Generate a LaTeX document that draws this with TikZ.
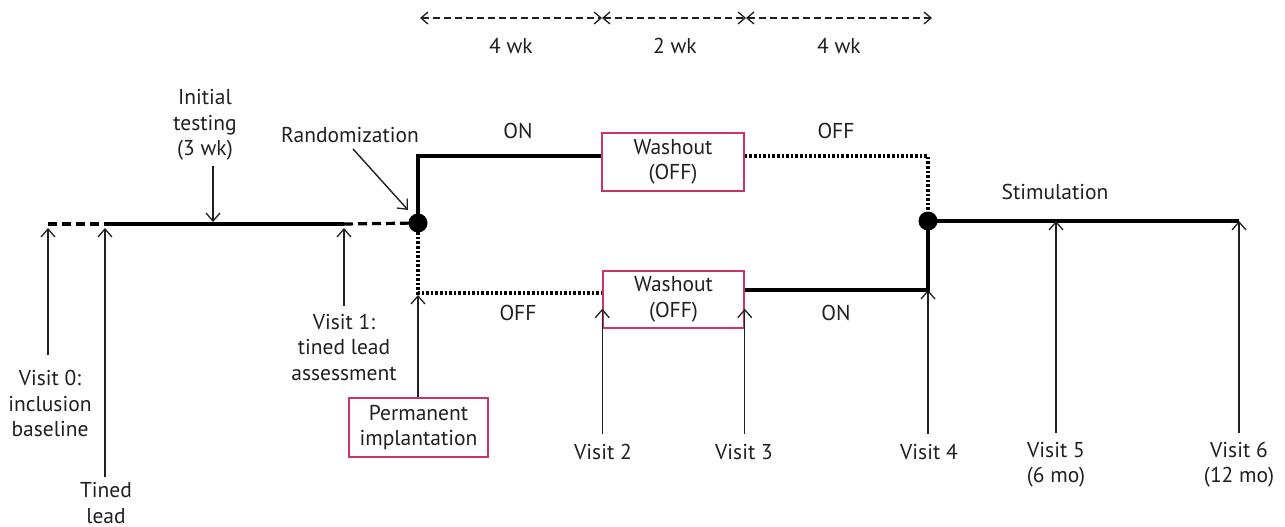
\documentclass[tikz,border=0pt]{standalone}
\usepackage{fontspec}
\setmainfont{PT Sans}
\usetikzlibrary{arrows.meta}
\definecolor{boxred}{RGB}{204,51,102}
\definecolor{txt}{RGB}{35,31,32}
\begin{document}
\begin{tikzpicture}[x=1pt,y=-1pt,
  lbl/.style={font=\fontsize{21.5}{25.5}\selectfont, text=txt, align=center, inner sep=0pt},
  mainline/.style={line width=3.2pt, black},
  dashline/.style={line width=3.2pt, black, dash pattern=on 9pt off 5pt},
  dotline/.style={line width=3.2pt, black, dash pattern=on 2.6pt off 2pt},
  visitarrow/.style={line width=1.4pt, txt, -{Straight Barb[length=8pt,width=14pt,line width=1.3pt]}},
  spanarrow/.style={line width=1.3pt, txt, dash pattern=on 7pt off 4pt,
     {Straight Barb[length=7pt,width=12pt,line width=1.3pt]}-{Straight Barb[length=7pt,width=12pt,line width=1.3pt]}},
  redbox/.style={draw=boxred, line width=1.5pt, fill=white, lbl, inner sep=0pt},
  dotnode/.style={circle, fill=black, minimum size=19pt, inner sep=0pt}
]
\useasboundingbox (0,0) rectangle (1285,527);

% top span arrows
\coordinate (t0) at (420,18);
\coordinate (t1) at (602,18);
\coordinate (t2) at (746,18);
\coordinate (t3) at (932,18);
\draw[spanarrow] (t0) -- (t1);
\draw[spanarrow] (t1) -- (t2);
\draw[spanarrow] (t2) -- (t3);
\node[lbl] (w1) at (511,46) {4 wk};
\node[lbl] (w2) at (675,46) {2 wk};
\node[lbl] (w3) at (839,46) {4 wk};

% baseline
\coordinate (b0) at (48,224);
\coordinate (b1) at (105,224);
\coordinate (b2) at (344,224);
\node[dotnode] (R) at (418,223) {};
\draw[dashline] (b0) -- (b1);
\draw[mainline] (b1) -- (b2);
\draw[dashline] (b2) -- (R.center);

% boxes
\node[redbox, minimum width=142pt, minimum height=58pt] (W1) at (673,162) {Washout\\(OFF)};
\node[redbox, minimum width=141pt, minimum height=57pt] (W2) at (673.5,299.5) {Washout\\(OFF)};
\node[redbox, minimum width=139pt, minimum height=59pt] (PI) at (418.5,427.5) {Permanent\\implantation};
\node[dotnode] (S) at (928,221) {};

% upper branch
\coordinate (uL) at (418,156);
\coordinate (uR) at (928,156);
\draw[mainline] (R.center) -- (uL) -- (uL -| W1.west);
\draw[dotline] (uL -| W1.east) -- (uR) -- (S.center);
% lower branch
\coordinate (lL) at (418,293);
\coordinate (lR) at (928,290);
\draw[dotline] (R.center) -- (lL) -- (lL -| W2.west);
\draw[mainline] (lR -| W2.east) -- (lR) -- (S.center);
% stimulation
\coordinate (s5) at (1056,221);
\coordinate (sE) at (1239,221);
\draw[mainline] (S.center) -- (sE);

% branch labels
\node[lbl] (on1) at (518,131) {ON};
\node[lbl] (off1) at (836,131) {OFF};
\node[lbl] (off2) at (518,313) {OFF};
\node[lbl] (on2) at (836,313) {ON};
\node[lbl] (stim) at (1055,192) {Stimulation};

% top labels
\node[lbl] (IT) at (205,125) {Initial\\testing\\(3 wk)};
\coordinate (itTip) at (213,222);
\draw[visitarrow] (IT.south -| itTip) ++(0,5) -- (itTip);
\node[lbl] (RZ) at (350,135) {Randomization};
\draw[visitarrow] ([xshift=3pt,yshift=-6pt]RZ.south) -- ([xshift=-10pt,yshift=13pt]R.center);

% visit labels
\node[lbl] (V0) at (50,403.5) {Visit 0:\\inclusion\\baseline};
\draw[visitarrow] ([yshift=15pt]V0.north -| b0) -- ([yshift=-4pt]b0);
\node[lbl] (TL) at (106,503) {Tined\\lead};
\draw[visitarrow] ([yshift=5pt]TL.north -| b1) -- ([yshift=-4pt]b1);
\node[lbl] (V1) at (344,347) {Visit 1:\\tined lead\\assessment};
\draw[visitarrow] ([yshift=8pt]V1.north -| b2) -- ([yshift=-4pt]b2);
\draw[visitarrow] (PI.north -| lL) -- ([yshift=-2pt]lL);

\node[lbl] (V2) at (603,452) {Visit 2};
\draw[visitarrow] ([yshift=10pt]V2.north -| W2.west) -- ([yshift=20pt]W2.south west);
\node[lbl] (V3) at (744,452) {Visit 3};
\draw[visitarrow] ([yshift=10pt]V3.north -| W2.east) -- ([yshift=20pt]W2.south east);
\node[lbl] (V4) at (929,452) {Visit 4};
\draw[visitarrow] ([yshift=10pt]V4.north -| lR) -- (lR);
\node[lbl] (V5) at (1056,464.5) {Visit 5\\(6 mo)};
\draw[visitarrow] ([yshift=9pt]V5.north -| s5) -- (s5);
\node[lbl] (V6) at (1239,464.5) {Visit 6\\(12 mo)};
\draw[visitarrow] ([yshift=9pt]V6.north -| sE) -- (sE);
\end{tikzpicture}
\end{document}
